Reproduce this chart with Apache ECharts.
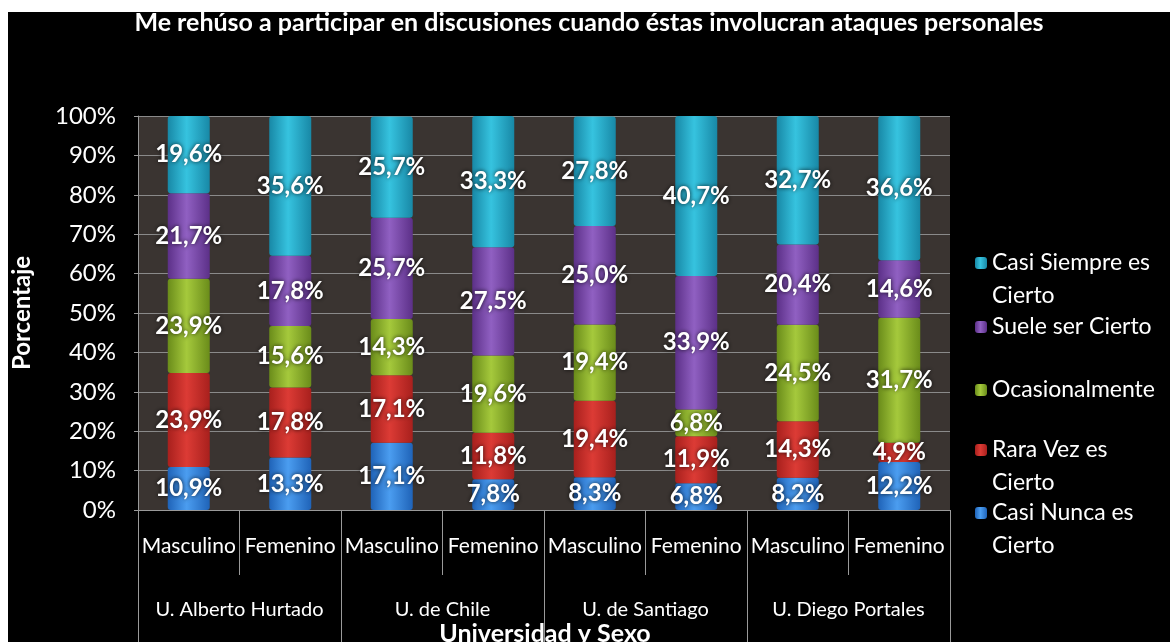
<!DOCTYPE html>
<html>
<head>
<meta charset="utf-8">
<script src="https://cdn.jsdelivr.net/npm/echarts@6/dist/echarts.min.js"></script>
<style>
  html, body { margin: 0; padding: 0; background: #fff; }
  #chart_container { position: absolute; left: 8px; top: 12px; width: 1162px; height: 630px; background: #000; }
</style>
</head>
<body>
<div id="chart_container"></div>
<script>
// categorias y datos (porcentajes)
var sexos = ['Masculino', 'Femenino', 'Masculino', 'Femenino', 'Masculino', 'Femenino', 'Masculino', 'Femenino'];
var universidades = ['U. Alberto Hurtado', 'U. de Chile', 'U. de Santiago', 'U. Diego Portales'];

var casiNunca    = [10.9, 13.3, 17.1, 7.8, 8.3, 6.8, 8.2, 12.2];
var raraVez      = [23.9, 17.8, 17.1, 11.8, 19.4, 11.9, 14.3, 4.9];
var ocasional    = [23.9, 15.6, 14.3, 19.6, 19.4, 6.8, 24.5, 31.7];
var sueleSer     = [21.7, 17.8, 25.7, 27.5, 25.0, 33.9, 20.4, 14.6];
var casiSiempre  = [19.6, 35.6, 25.7, 33.3, 27.8, 40.7, 32.7, 36.6];

var yTicks = [0, 10, 20, 30, 40, 50, 60, 70, 80, 90, 100];

var FONT = 'Lato';

function grad(dark, light) {
  return new echarts.graphic.LinearGradient(0, 0, 1, 0, [
    { offset: 0, color: dark },
    { offset: 0.45, color: light },
    { offset: 1, color: dark }
  ]);
}

function serie(name, data, dark, light) {
  return {
    name: name,
    type: 'bar',
    stack: 'total',
    barWidth: 42,
    data: data,
    itemStyle: { color: grad(dark, light), borderRadius: 3 },
    label: {
      show: true,
      position: 'inside',
      formatter: function (p) { return p.value.toFixed(1).replace('.', ',') + '%'; },
      color: '#fff',
      fontFamily: FONT,
      fontWeight: 'bold',
      fontSize: 24,
      textShadowColor: 'rgba(0,0,0,0.8)',
      textShadowBlur: 4
    }
  };
}

// una leyenda por serie, para repartirlas como en el original
function leyenda(name, cy, dosLineas) {
  var L = 33;
  return {
    data: [name],
    orient: 'vertical',
    left: 967,
    top: dosLineas ? cy - 1.5 * L : cy - L / 2,
    padding: 0,
    itemWidth: 12,
    itemHeight: 12,
    selectedMode: false,
    formatter: function (n) {
      return n.indexOf(' es Cierto') > 0 ? '\n' + n.replace(' es Cierto', ' es\nCierto') : n;
    },
    textStyle: {
      color: '#fff',
      fontFamily: FONT,
      fontSize: 23,
      lineHeight: L
    }
  };
}

var chart = echarts.init(document.getElementById('chart_container'));

var option = {
  backgroundColor: '#000',
  animation: false,
  title: [
    {
      text: 'Me rehúso a participar en discusiones cuando éstas involucran ataques personales',
      left: 'center',
      top: -2,
      padding: 0,
      textStyle: { color: '#fff', fontFamily: FONT, fontWeight: 'bold', fontSize: 25 }
    },
    {
      text: 'Universidad y Sexo',
      left: 545 - 8,
      top: 609,
      padding: 0,
      textAlign: 'center',
      textStyle: { color: '#fff', fontFamily: FONT, fontWeight: 'bold', fontSize: 25 }
    }
  ],
  legend: [
    leyenda('Casi Siempre es Cierto', 251, true),
    leyenda('Suele ser Cierto', 315, false),
    leyenda('Ocasionalmente', 378, false),
    leyenda('Rara Vez es Cierto', 438, true),
    leyenda('Casi Nunca es Cierto', 501, true)
  ],
  grid: {
    left: 130,
    right: 220,
    top: 104,
    bottom: 132,
    outerBoundsMode: 'none',
    containLabel: false,
    show: true,
    backgroundColor: '#3a3431',
    borderWidth: 0
  },
  xAxis: [
    {
      type: 'category',
      data: sexos,
      axisLine: { lineStyle: { color: '#9a9a9a', width: 1 } },
      axisTick: { show: true, interval: 0, length: 65, lineStyle: { color: '#9a9a9a' } },
      axisLabel: { color: '#fff', fontFamily: FONT, fontSize: 21, margin: 26, interval: 0 }
    },
    {
      type: 'category',
      data: universidades,
      position: 'bottom',
      axisLine: { show: false },
      axisTick: { show: true, interval: 0, length: 132, lineStyle: { color: '#9a9a9a' } },
      axisLabel: { color: '#fff', fontFamily: FONT, fontSize: 20, margin: 90, interval: 0 }
    }
  ],
  yAxis: {
    type: 'value',
    min: yTicks[0],
    max: yTicks[yTicks.length - 1],
    interval: 10,
    name: 'Porcentaje',
    nameLocation: 'middle',
    nameRotate: 90,
    nameGap: 104,
    nameTextStyle: { color: '#fff', fontFamily: FONT, fontWeight: 'bold', fontSize: 24 },
    axisLine: { show: true, lineStyle: { color: '#9a9a9a' } },
    axisTick: { show: true, length: 4, lineStyle: { color: '#9a9a9a' } },
    axisLabel: { color: '#fff', fontFamily: FONT, fontSize: 24, margin: 22, formatter: '{value}%' },
    splitLine: { show: true, lineStyle: { color: '#8a8a8a', width: 1 } }
  },
  series: [
    serie('Casi Nunca es Cierto', casiNunca, '#1f63b8', '#4b9df0'),
    serie('Rara Vez es Cierto', raraVez, '#a8201d', '#dc3b35'),
    serie('Ocasionalmente', ocasional, '#6a8c1a', '#a5c93c'),
    serie('Suele ser Cierto', sueleSer, '#5c3088', '#9060c2'),
    serie('Casi Siempre es Cierto', casiSiempre, '#1888a6', '#36c3df')
  ]
};

chart.setOption(option);
</script>
</body>
</html>
